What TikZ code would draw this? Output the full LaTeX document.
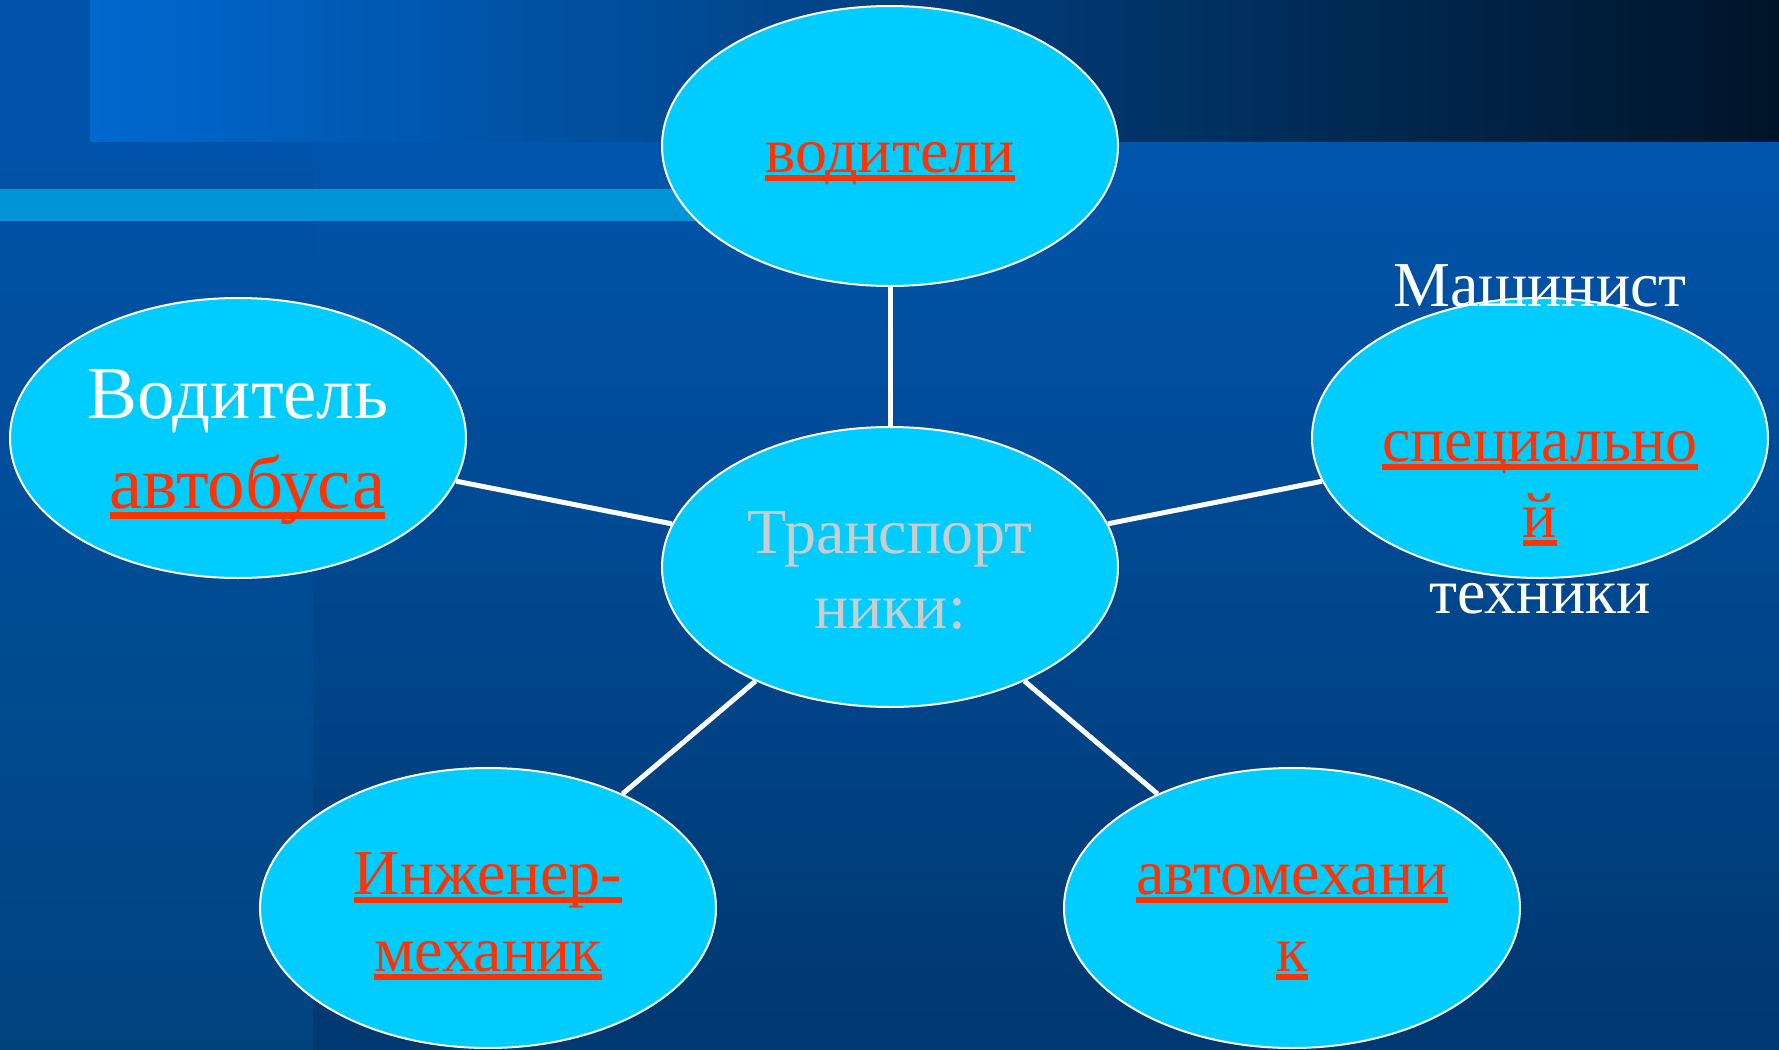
\documentclass[tikz,border=0pt]{standalone}
\usepackage{fontspec}
\setmainfont{Liberation Serif}
\usetikzlibrary{shapes.geometric}
\definecolor{bgtop}{HTML}{005AB5}
\definecolor{bgbottom}{HTML}{003870}
\definecolor{coltop}{HTML}{0053A8}
\definecolor{colbottom}{HTML}{00447F}
\definecolor{bandleft}{HTML}{0068D0}
\definecolor{bandright}{HTML}{001428}
\definecolor{stripe}{HTML}{0093D6}
\definecolor{bubblecyan}{HTML}{00CCFF}
\definecolor{linkred}{HTML}{FF3300}
\definecolor{greytext}{HTML}{CCCCCC}
\newsavebox\hlinkbox
\newcommand\hlink[1]{\textcolor{linkred}{\sbox\hlinkbox{#1}\rlap{\smash{\rule[-0.145em]{\wd\hlinkbox}{0.095em}}}\usebox\hlinkbox}}
\tikzset{
  bubble/.style={ellipse, draw=white, line width=1pt, fill=bubblecyan,
    minimum width=228pt, minimum height=140pt, inner sep=0pt},
  tag/.style={align=center, text=white, inner sep=0pt, anchor=base,
    font=\fontsize{32}{38}\selectfont},
  link/.style={white, line width=2.5pt}
}

\begin{document}
\begin{tikzpicture}[x=0.5pt, y=-0.5pt]
            \useasboundingbox (0,0) rectangle (1779,1050);
            % background
            \fill[top color=bgtop, bottom color=bgbottom] (0,0) rectangle (1779,1050);
            \fill[top color=coltop, bottom color=colbottom] (0,141) rectangle (313,1050);
            \fill[coltop] (0,0) rectangle (90,141);
            \fill[left color=bandleft, right color=bandright] (90,0) rectangle (1779,141);
            \fill[stripe] (0,189) rectangle (700,221);

            % bubbles
            \node (T) [bubble] at (890,567) {};
            \node (V) [bubble] at (890,146) {};
            \node (A) [bubble] at (238,438) {};
            \node (M) [bubble] at (1540,438) {};
            \node (I) [bubble] at (488,908) {};
            \node (K) [bubble] at (1292,908) {};

            \draw[link] (T) -- (V);
            \draw[link] (T) -- (A);
            \draw[link] (T) -- (M);
            \draw[link] (T) -- (I);
            \draw[link] (T) -- (K);

            % texts (base = last line)
            \node (Tt) [tag, text=greytext, font=\fontsize{32}{37.5}\selectfont] at (890,628) {Транспорт\\ники:};
            \node (Vt) [tag] at (890,172) {\hlink{водители}};
            \node (At) [tag, font=\fontsize{37.4}{45}\selectfont] at (238,508) {Водитель\\\hspace{0.25em}\hlink{автобуса}};
            \node (Mt) [tag, font=\fontsize{32}{38}\selectfont] at (1540,613) {Машинист\\[1.5pt]\mbox{}\\\hlink{специально}\\\hlink{й}\\техники};
            \node (It) [tag, font=\fontsize{32}{38.5}\selectfont] at (488,971) {\hlink{Инженер-}\\\hlink{механик}};
            \node (Kt) [tag, font=\fontsize{32}{38.5}\selectfont] at (1292,971) {\hlink{автомехани}\\\hlink{к}};
\end{tikzpicture}
\end{document}
